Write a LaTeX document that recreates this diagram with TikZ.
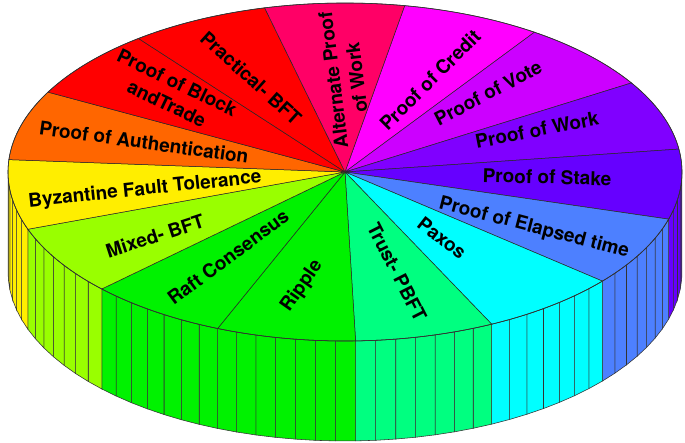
\documentclass[tikz,border=0pt]{standalone}
\usepackage{fontspec}
\setmainfont{TeX Gyre Heros}
\definecolor{c0}{HTML}{FF00FF}
\definecolor{c1}{HTML}{CC00FF}
\definecolor{c2}{HTML}{8000FF}
\definecolor{c3}{HTML}{6600FF}
\definecolor{c4}{HTML}{4D80FF}
\definecolor{c5}{HTML}{00FFFF}
\definecolor{c6}{HTML}{00FF80}
\definecolor{c7}{HTML}{00F200}
\definecolor{c8}{HTML}{00F200}
\definecolor{c9}{HTML}{99FF00}
\definecolor{c10}{HTML}{FFEE00}
\definecolor{c11}{HTML}{FF6600}
\definecolor{c12}{HTML}{FF0000}
\definecolor{c13}{HTML}{FF0000}
\definecolor{c14}{HTML}{FF0066}
\begin{document}
\begin{tikzpicture}[x=1pt,y=1pt,
  lbl/.style={font=\fontsize{19}{23.5}\selectfont\bfseries, text=black, align=center, inner sep=0pt},
  stripe/.style={draw=black!80, line width=0.55pt},
  slice/.style={draw=black!85, line width=0.5pt}]
\useasboundingbox (0,0) rectangle (685,-443);
\fill[white] (0,0) rectangle (685,-443);
\coordinate (C) at (345,-172);
\begin{scope}[shift={(C)}]
\foreach \n in {23,...,75}{
  \pgfmathtruncatemacro\k{(\n+0.5)/7}
  \pgfmathsetmacro\ta{79.8-\n*24/7}
  \pgfmathsetmacro\tb{\ta-24/7}
  \pgfmathsetmacro\xa{337*cos(\ta)}
  \pgfmathsetmacro\ya{169*sin(\ta)}
  \pgfmathsetmacro\xb{337*cos(\tb)}
  \pgfmathsetmacro\yb{169*sin(\tb)}
  \draw[stripe, fill=c\k] (\xa,\ya) -- (\xb,\yb) -- (\xb,\yb-100) -- (\xa,\ya-100) -- cycle;
}
\foreach \k in {0,...,14}{
  \pgfmathsetmacro\a{79.8-24*\k}
  \pgfmathsetmacro\b{\a-24}
  \draw[slice, fill=c\k] (0,0) -- (\a:337pt and 169pt) arc[start angle=\a, end angle=\b, x radius=337pt, y radius=169pt] -- cycle;
}
\draw[black!80, line width=0.6pt] (0,0) ellipse [x radius=337pt, y radius=169pt];
\end{scope}
\node[lbl, rotate=45] (credit) at (430,-80) {Proof of Credit};
\node[lbl, rotate=27.5] (vote) at (488,-93) {Proof of Vote};
\node[lbl, rotate=11] (work) at (537,-130) {Proof of Work};
\node[lbl, rotate=-1.5] (stake) at (547,-177) {Proof of Stake};
\node[lbl, rotate=-14.6] (elapsed) at (534,-228) {Proof of Elapsed time};
\node[lbl, rotate=-38] (paxos) at (442,-238) {Paxos};
\node[lbl, rotate=-63] (trust) at (397,-272) {Trust- PBFT};
\node[lbl, rotate=55] (ripple) at (302,-286) {Ripple};
\node[lbl, rotate=36.5] (raft) at (228,-257) {Raft Consensus};
\node[lbl, rotate=18] (mixed) at (155,-236) {Mixed- BFT};
\node[lbl, rotate=6] (byz) at (145,-190) {Byzantine Fault Tolerance};
\node[lbl, rotate=-8] (auth) at (144,-142) {Proof of Authentication};
\node[lbl, rotate=-25.6] (block) at (172,-93) {Proof of Block\\andTrade};
\node[lbl, rotate=-42] (practical) at (251,-78) {Practical- BFT};
\node[lbl, rotate=97] (alternate) at (345,-79) {Alternate Proof\\of Work};
\end{tikzpicture}
\end{document}
